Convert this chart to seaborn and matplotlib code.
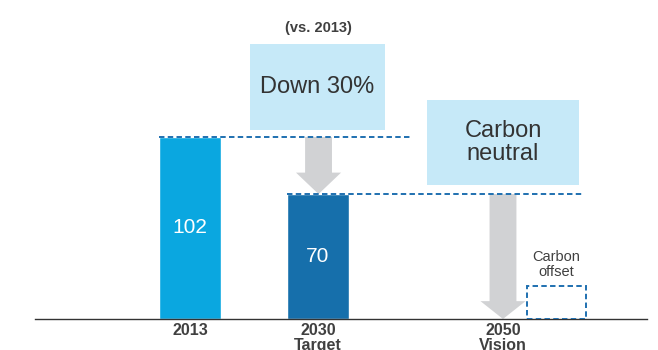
import matplotlib
matplotlib.use("Agg")
import matplotlib.pyplot as plt
import seaborn as sns
import pandas as pd
from matplotlib.patches import Rectangle, Polygon

# ---- data ----
categories = ["2013", "2030\nTarget"]
values = [102, 70]
tick_labels = ["2013", "2030\nTarget", "2050\nVision"]
bar_colors = ["#0AA7E0", "#166FAB"]
reduction_label = "Down 30%"
baseline_note = "(vs. 2013)"
vision_label = "Carbon\nneutral"
offset_label = "Carbon\noffset"

sns.set_theme(style="white")
plt.rcParams["font.family"] = ["Liberation Sans", "DejaVu Sans"]

TXT = "#404040"
BOX = "#C6E9F8"
GREY = "#D1D2D4"
DASH = "#1F70B0"

fig = plt.figure(figsize=(6.58, 3.5), dpi=100)
ax = fig.add_axes([35 / 658, 31 / 350, 612 / 658, 319 / 350])

df = pd.DataFrame({"cat": categories, "val": values})
sns.barplot(data=df, x="cat", y="val", hue="cat", palette=bar_colors,
            width=0.477, legend=False, ax=ax, saturation=1)

for c in ax.containers:
    ax.bar_label(c, label_type="center", color="white", fontsize=15)

# layout
vision_x = 2.445
ax.set_xlim(-1.211, 3.570)
ax.set_ylim(0, 178.7)
ax.set_xticks([0, 1, vision_x])
ax.set_xticklabels(tick_labels, fontsize=11.5, fontweight="bold", color=TXT,
                   linespacing=0.95)
ax.tick_params(axis="x", length=0, pad=3)
ax.set_yticks([])
ax.set_xlabel("")
ax.set_ylabel("")
for s in ["left", "right", "top"]:
    ax.spines[s].set_visible(False)
ax.spines["bottom"].set_color("#333333")
ax.spines["bottom"].set_linewidth(1.0)

dash = (0, (2.8, 1.7))
hw = 0.477 / 2
# dashed reference lines
ax.plot([-hw, 1.727], [values[0], values[0]], color=DASH, lw=1.4, ls=dash, zorder=4)
ax.plot([1 - hw, 3.07], [values[1], values[1]], color=DASH, lw=1.4, ls=dash, zorder=4)


def down_arrow(xc, y0, y1, shaft=0.105, head=0.176, hl=11.5):
    pts = [(xc - shaft, y0), (xc + shaft, y0), (xc + shaft, y1 + hl),
           (xc + head, y1 + hl), (xc, y1), (xc - head, y1 + hl),
           (xc - shaft, y1 + hl)]
    ax.add_patch(Polygon(pts, closed=True, facecolor=GREY, edgecolor="none", zorder=2))


down_arrow(1.004, values[0], values[1], hl=12)
down_arrow(vision_x, values[1], 0, hl=10)

# carbon offset dashed box
ax.add_patch(Rectangle((2.633, 0), 3.094 - 2.633, 18.5, fill=False,
                       edgecolor=DASH, lw=1.4, ls=dash, zorder=3))
ax.text((2.633 + 3.094) / 2, 30.5, offset_label, ha="center", va="center",
        fontsize=10.5, color=TXT, linespacing=1.05)

# callout boxes
ax.add_patch(Rectangle((0.469, 105.9), 1.523 - 0.469, 154.1 - 105.9,
                       facecolor=BOX, edgecolor="none", zorder=1))
ax.text((0.469 + 1.523) / 2, 130, reduction_label, ha="center", va="center",
        fontsize=17, color="#333333")
ax.text(1.0, 163, baseline_note, ha="center", va="center", fontsize=10.5,
        fontweight="bold", color=TXT)

ax.add_patch(Rectangle((1.852, 75.1), 3.039 - 1.852, 122.7 - 75.1,
                       facecolor=BOX, edgecolor="none", zorder=1))
ax.text((1.852 + 3.039) / 2, 98.9, vision_label, ha="center", va="center",
        fontsize=17, color="#333333", linespacing=1.05)

fig.savefig("out.png", dpi=100)
